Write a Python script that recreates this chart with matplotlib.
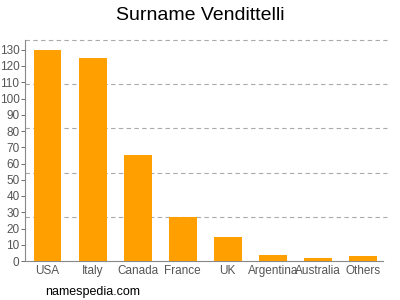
import matplotlib
matplotlib.use("Agg")
import matplotlib.pyplot as plt
import numpy as np

plt.rcParams['font.family'] = ['Liberation Sans', 'DejaVu Sans']

categories = ["USA", "Italy", "Canada", "France", "UK", "Argentina", "Australia", "Others"]
values = [130, 125, 65, 27, 15, 4, 2, 3]
yticks = list(range(0, 140, 10))

fig = plt.figure(figsize=(4, 3), dpi=100)
ax = fig.add_axes([25/400, 1-261/300, 358/400, 221/300])

x = np.arange(len(categories))
ax.bar(x, values, width=0.62, color="#FFA000", zorder=3)
ymax = 136
for g in np.linspace(ymax/5, ymax, 5):
    ax.axhline(g, color="#aaaaaa", linestyle=(0, (4, 3)), linewidth=0.8, zorder=1, clip_on=False,
               xmax=1.01)
ax.set_ylim(0, ymax)
ax.set_xlim(-0.5, 7.45)
ax.set_yticks(yticks)
ax.set_xticks(x)
ax.set_xticklabels(categories)
ax.tick_params(axis="both", colors="#555555", labelsize=8.5, length=3, width=0.6)
ax.tick_params(axis="x", length=0, pad=3)
ax.tick_params(axis="y", pad=1)
for s in ["top", "right"]:
    ax.spines[s].set_visible(False)
for s in ["left", "bottom"]:
    ax.spines[s].set_color("#888888")
    ax.spines[s].set_linewidth(0.8)

fig.text(0.5, 1-15/300, "Surname Vendittelli", ha="center", va="center", fontsize=14, color="#000000")
fig.text(45/400, 1-292/300, "namespedia.com", ha="left", va="center", fontsize=9, color="#000000")

fig.savefig("out.png", dpi=100)
